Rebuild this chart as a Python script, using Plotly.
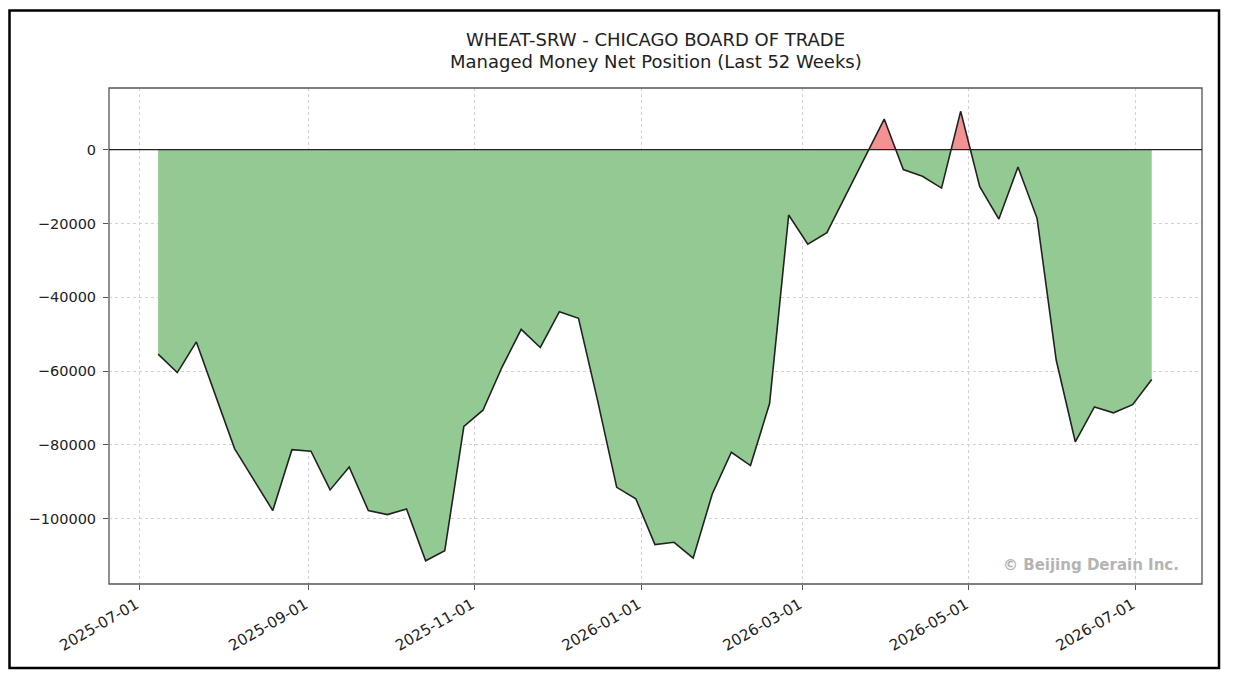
import plotly.graph_objects as go

dates = [
    "2025-07-08", "2025-07-15", "2025-07-22", "2025-07-29", "2025-08-05", "2025-08-12",
    "2025-08-19", "2025-08-26", "2025-09-02", "2025-09-09", "2025-09-16", "2025-09-23",
    "2025-09-30", "2025-10-07", "2025-10-14", "2025-10-21", "2025-10-28", "2025-11-04",
    "2025-11-11", "2025-11-18", "2025-11-25", "2025-12-02", "2025-12-09", "2025-12-16",
    "2025-12-23", "2025-12-30", "2026-01-06", "2026-01-13", "2026-01-20", "2026-01-27",
    "2026-02-03", "2026-02-10", "2026-02-17", "2026-02-24", "2026-03-03", "2026-03-10",
    "2026-03-17", "2026-03-24", "2026-03-31", "2026-04-07", "2026-04-14", "2026-04-21",
    "2026-04-28", "2026-05-05", "2026-05-12", "2026-05-19", "2026-05-26", "2026-06-02",
    "2026-06-09", "2026-06-16", "2026-06-23", "2026-06-30", "2026-07-07",
]

net_position = [
    -55400, -60400, -52100, -66500, -81000, -89400,
    -97800, -81300, -81700, -92200, -86000, -97800,
    -98900, -97400, -111400, -108700, -75000, -70600,
    -58900, -48700, -53600, -43900, -45700, -68000,
    -91500, -94600, -107000, -106400, -110700, -93300,
    -82000, -85600, -68800, -17700, -25600, -22500,
    -12100, -1900, 8300, -5400, -7200, -10400,
    10400, -10000, -18800, -4700, -18600, -57000,
    -79200, -69700, -71300, -69100, -62300,
]

x_ticks = ["2025-07-01", "2025-09-01", "2025-11-01", "2026-01-01",
           "2026-03-01", "2026-05-01", "2026-07-01"]
y_ticks = [0, -20000, -40000, -60000, -80000, -100000]
y_tick_labels = ["0", "\u221220000", "\u221240000", "\u221260000", "\u221280000", "\u2212100000"]

title_line1 = "WHEAT-SRW - CHICAGO BOARD OF TRADE"
title_line2 = "Managed Money Net Position (Last 52 Weeks)"
watermark = "\u00a9 Beijing Derain Inc."

# geometry: page pixels of the reference, page offset of the figure (body margin)
OFF = 8
W, H = 1235, 683
L, R, T, B = 109 - OFF, 1202 - OFF, 88 - OFF, 584 - OFF
y_top, y_bot = 16720, -117700
split = (0 - y_bot) / (y_top - y_bot)  # fraction of plot height below zero

FONT = "DejaVu Sans"
GREEN = "#93ca93"
RED = "#f29292"
LINE = "#222222"
GRID = "#dccbdc"
SPINE = "#555555"
TXT = "#222222"

fig = go.Figure()

# negative part (green), clipped by the lower subplot
fig.add_trace(go.Scatter(
    x=dates, y=net_position, mode="lines", fill="tozeroy",
    fillcolor=GREEN, line=dict(color=LINE, width=1.6),
    xaxis="x", yaxis="y", hoverinfo="skip", showlegend=False,
))
# positive part (red), clipped by the upper subplot
fig.add_trace(go.Scatter(
    x=dates, y=net_position, mode="lines", fill="tozeroy",
    fillcolor=RED, line=dict(color=LINE, width=1.6),
    xaxis="x2", yaxis="y2", hoverinfo="skip", showlegend=False,
))

x_range = ["2025-06-20", "2026-07-25 10:00"]
common_x = dict(
    range=x_range, type="date", showgrid=True, gridcolor=GRID, griddash="dot",
    gridwidth=1, zeroline=False, showline=False,
)

fig.update_layout(
    width=W, height=H,
    margin=dict(l=L, r=W - R, t=T, b=H - B, pad=0),
    paper_bgcolor="white", plot_bgcolor="white",
    font=dict(family=FONT, size=14.5, color=TXT),
    xaxis=dict(
        **common_x, anchor="y", domain=[0, 1],
        tickmode="array", tickvals=x_ticks, ticktext=x_ticks,
        tickangle=-30, ticks="outside", ticklen=5, tickcolor=SPINE,
        ticklabelstandoff=0, ticklabelshift=-3,
        tickfont=dict(family=FONT, size=15.2, color=TXT),
    ),
    xaxis2=dict(
        **common_x, anchor="y2", matches="x", domain=[0, 1],
        tickmode="array", tickvals=x_ticks, showticklabels=False, ticks="",
    ),
    yaxis=dict(
        domain=[0, split], range=[y_bot, 0], anchor="x",
        tickmode="array", tickvals=y_ticks, ticktext=y_tick_labels,
        ticks="outside", ticklen=5, tickcolor=SPINE, ticklabelstandoff=4,
        showgrid=True, gridcolor=GRID, griddash="dot", gridwidth=1,
        zeroline=False, showline=False,
        tickfont=dict(family=FONT, size=14.5, color=TXT),
    ),
    yaxis2=dict(
        domain=[split, 1], range=[0, y_top], anchor="x2",
        showticklabels=False, ticks="", showgrid=False, zeroline=False, showline=False,
    ),
)

pw, ph = R - L, B - T


def px_x(p):
    return (p - OFF - L) / pw


def px_y(p):
    return (B - (p - OFF)) / ph


shapes = [
    # plot frame
    dict(type="rect", xref="paper", yref="paper", x0=0, x1=1, y0=0, y1=1,
         line=dict(color=SPINE, width=1.3), fillcolor="rgba(0,0,0,0)", layer="above"),
    # zero line
    dict(type="line", xref="paper", yref="paper", x0=0, x1=1, y0=split, y1=split,
         line=dict(color="#222222", width=1.3), layer="above"),
    # outer border
    dict(type="rect", xref="paper", yref="paper",
         x0=px_x(9.5), x1=px_x(1219), y0=px_y(668), y1=px_y(10.5),
         line=dict(color="black", width=2.5), fillcolor="rgba(0,0,0,0)", layer="above"),
]
fig.update_layout(shapes=shapes)

annotations = [
    dict(text=title_line1, xref="paper", yref="paper", x=0.5, y=px_y(39.5),
         xanchor="center", yanchor="middle", showarrow=False,
         font=dict(family=FONT, size=18, color=TXT)),
    dict(text=title_line2, xref="paper", yref="paper", x=0.5, y=px_y(61.5),
         xanchor="center", yanchor="middle", showarrow=False,
         font=dict(family=FONT, size=18, color=TXT)),
    dict(text="<b>" + watermark + "</b>", xref="paper", yref="paper",
         x=px_x(1181), y=px_y(565), xanchor="right", yanchor="middle", showarrow=False,
         font=dict(family=FONT, size=15, color="#b4b4b4")),
]
fig.update_layout(annotations=annotations)

fig.write_html("out.html")
